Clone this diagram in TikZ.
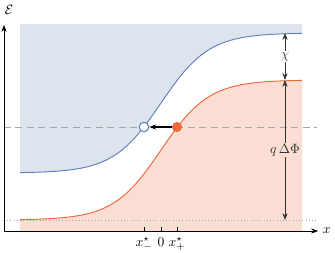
\documentclass[tikz,border=0pt]{standalone}
\usetikzlibrary{arrows.meta}

\definecolor{bandblue}{RGB}{95,128,190}
\definecolor{fillblue}{RGB}{221,228,238}
\definecolor{bandred}{RGB}{238,104,62}
\definecolor{fillred}{RGB}{250,222,212}

\begin{document}
\begin{tikzpicture}[x=0.026cm, y=0.026cm, font=\normalsize,
    axis/.style={-{Stealth[length=5pt]}, thin},
    dimarrow/.style={{Stealth[length=5pt]}-{Stealth[length=5pt]}, thin, black!80},
    hole/.style={circle, draw=bandblue, fill=white, thick, inner sep=0pt, minimum size=7pt},
    carrier/.style={circle, fill=bandred, inner sep=0pt, minimum size=7.5pt},
    ticklabel/.style={anchor=base, inner sep=0pt}]

  \useasboundingbox (0,0) rectangle (335,252);

  % --- shaded bands ---
  \fill[fillblue] (20,228) -- plot[domain=20:302, samples=120]
    (\x, {79+140/(1+exp(-(\x-161)/24))}) -- (302,228) -- cycle;
  \fill[fillred] (20,21) -- plot[domain=20:302, samples=120]
    (\x, {32+140/(1+exp(-(\x-161)/24))}) -- (302,21) -- cycle;

  % --- reference levels ---
  \draw[gray!70, dash pattern=on 5pt off 3.5pt] (4,125) -- (317,125);
  \draw[dotted, gray!70] (4,32) -- (317,32);

  % --- band edges ---
  \draw[bandblue, line width=0.7pt] plot[domain=20:302, samples=120]
    (\x, {79+140/(1+exp(-(\x-161)/24))});
  \draw[bandred, line width=0.7pt] plot[domain=20:302, samples=120]
    (\x, {32+140/(1+exp(-(\x-161)/24))});

  % --- axes ---
  \draw[axis] (4,21) -- (318,21) node[right] {$x$};
  \draw[axis] (4,21) -- (4,227);
  \node (eps) at (9,242) {$\mathcal{E}$};

  % --- ticks ---
  \foreach \t/\lab/\name in {144/{x_-^\star}/xm, 161/{0}/xo, 177/{x_+^\star}/xp} {
    \draw (\t,21) -- (\t,25);
    \node[ticklabel] (\name) at (\t,6) {$\lab$};
  }

  % --- carriers ---
  \node[hole] (h) at (144,125) {};
  \node[carrier] (e) at (177,125) {};
  \draw[-{Stealth[length=5pt]}, thick] (e) -- (h);

  % --- offsets ---
  \coordinate (top) at (285,219);
  \coordinate (mid) at (285,172);
  \coordinate (bot) at (285,32);
  \draw[dimarrow] (top) -- (mid) node[midway, fill=white, inner sep=1pt] (chi) {$\chi$};
  \draw[dimarrow] (mid) -- (bot) node[midway, fill=fillred, inner sep=1pt] (dphi) {$q\,\Delta\Phi$};

\end{tikzpicture}
\end{document}
